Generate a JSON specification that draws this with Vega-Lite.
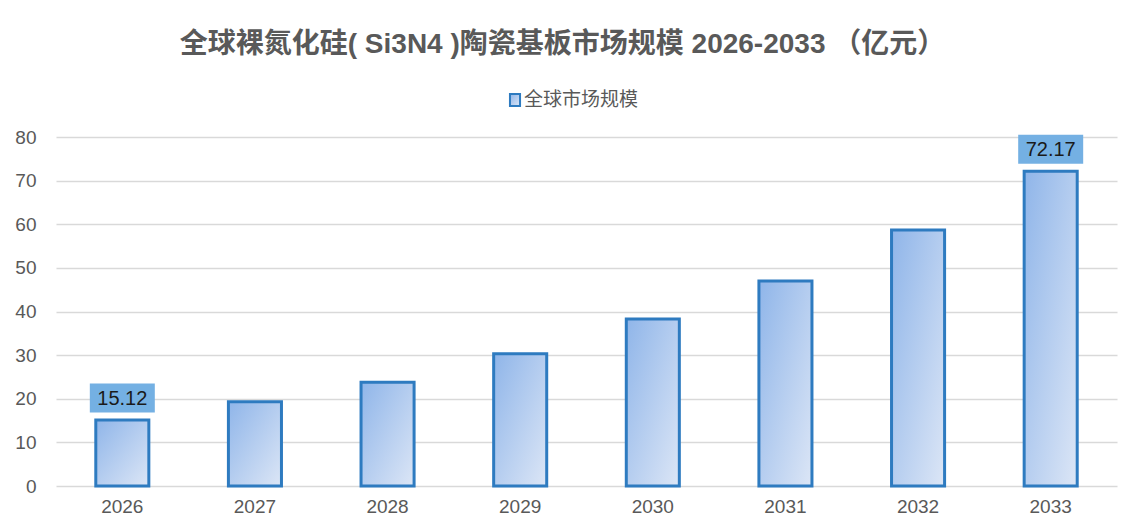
{
  "$schema": "https://vega.github.io/schema/vega-lite/v6.json",
  "width": 1061,
  "height": 349,
  "autosize": {"type": "none"},
  "padding": {"left": 56, "top": 137, "right": 22, "bottom": 46},
  "background": "#ffffff",
  "title": {
    "text": "全球裸氮化硅( Si3N4 )陶瓷基板市场规模 2026-2033 （亿元）",
    "font": "Liberation Sans, Noto Sans CJK SC",
    "fontSize": 28,
    "fontWeight": "bold",
    "color": "#595959",
    "anchor": "middle",
    "frame": "group",
    "offset": 28,
    "dx": -24
  },
  "data": {
    "values": [
      {"year": "2026", "value": 15.12, "series": "全球市场规模", "label": "15.12"},
      {"year": "2027", "value": 19.3, "series": "全球市场规模", "label": ""},
      {"year": "2028", "value": 23.8, "series": "全球市场规模", "label": ""},
      {"year": "2029", "value": 30.3, "series": "全球市场规模", "label": ""},
      {"year": "2030", "value": 38.3, "series": "全球市场规模", "label": ""},
      {"year": "2031", "value": 47.0, "series": "全球市场规模", "label": ""},
      {"year": "2032", "value": 58.7, "series": "全球市场规模", "label": ""},
      {"year": "2033", "value": 72.17, "series": "全球市场规模", "label": "72.17"}
    ]
  },
  "encoding": {
    "x": {
      "field": "year",
      "type": "nominal",
      "sort": null,
      "title": null,
      "scale": {"paddingInner": 0.6, "paddingOuter": 0.3},
      "axis": {
        "labelAngle": 0,
        "labelFont": "Liberation Sans",
        "labelFontSize": 19,
        "labelColor": "#595959",
        "labelPadding": 11,
        "ticks": false,
        "domain": false
      }
    },
    "y": {
      "field": "value",
      "type": "quantitative",
      "title": null,
      "scale": {"domain": [0, 80], "nice": false},
      "axis": {
        "values": [0, 10, 20, 30, 40, 50, 60, 70, 80],
        "labelFont": "Liberation Sans",
        "labelFontSize": 19,
        "labelColor": "#595959",
        "labelPadding": 20,
        "ticks": false,
        "domain": false,
        "gridColor": "#D9D9D9",
        "gridWidth": 1.5
      }
    }
  },
  "layer": [
    {
      "mark": {
        "type": "bar",
        "strokeWidth": 3,
        "fill": {
          "gradient": "linear",
          "x1": 0, "y1": 0, "x2": 1, "y2": 1,
          "stops": [
            {"offset": 0, "color": "#8FB5E9"},
            {"offset": 1, "color": "#DCE6F6"}
          ]
        }
      },
      "encoding": {
        "stroke": {
          "field": "series",
          "type": "nominal",
          "title": null,
          "scale": {"range": ["#2E7BC0"]},
          "legend": {
            "orient": "none",
            "legendX": 446,
            "legendY": -50,
            "direction": "horizontal",
            "symbolType": "M-0.42,-0.5L0.42,-0.5L0.42,0.5L-0.42,0.5Z",
            "symbolSize": 576,
            "symbolFillColor": "#B7CDEE",
            "symbolStrokeWidth": 2,
            "labelFont": "Noto Sans CJK SC",
            "labelFontSize": 19,
            "labelColor": "#595959",
            "labelOffset": -4
          }
        }
      }
    },
    {
      "transform": [{"filter": "datum.label != ''"}],
      "mark": {
        "type": "point",
        "shape": "M-1,-0.446L1,-0.446L1,0.446L-1,0.446Z",
        "size": 4225,
        "filled": true,
        "fill": "#74B0E3",
        "stroke": null,
        "opacity": 1,
        "yOffset": -22
      }
    },
    {
      "transform": [{"filter": "datum.label != ''"}],
      "mark": {
        "type": "text",
        "font": "Liberation Sans",
        "fontSize": 20,
        "color": "#1a1a1a",
        "baseline": "middle",
        "align": "center",
        "yOffset": -21
      },
      "encoding": {"text": {"field": "label"}}
    }
  ],
  "config": {"view": {"stroke": null}}
}
